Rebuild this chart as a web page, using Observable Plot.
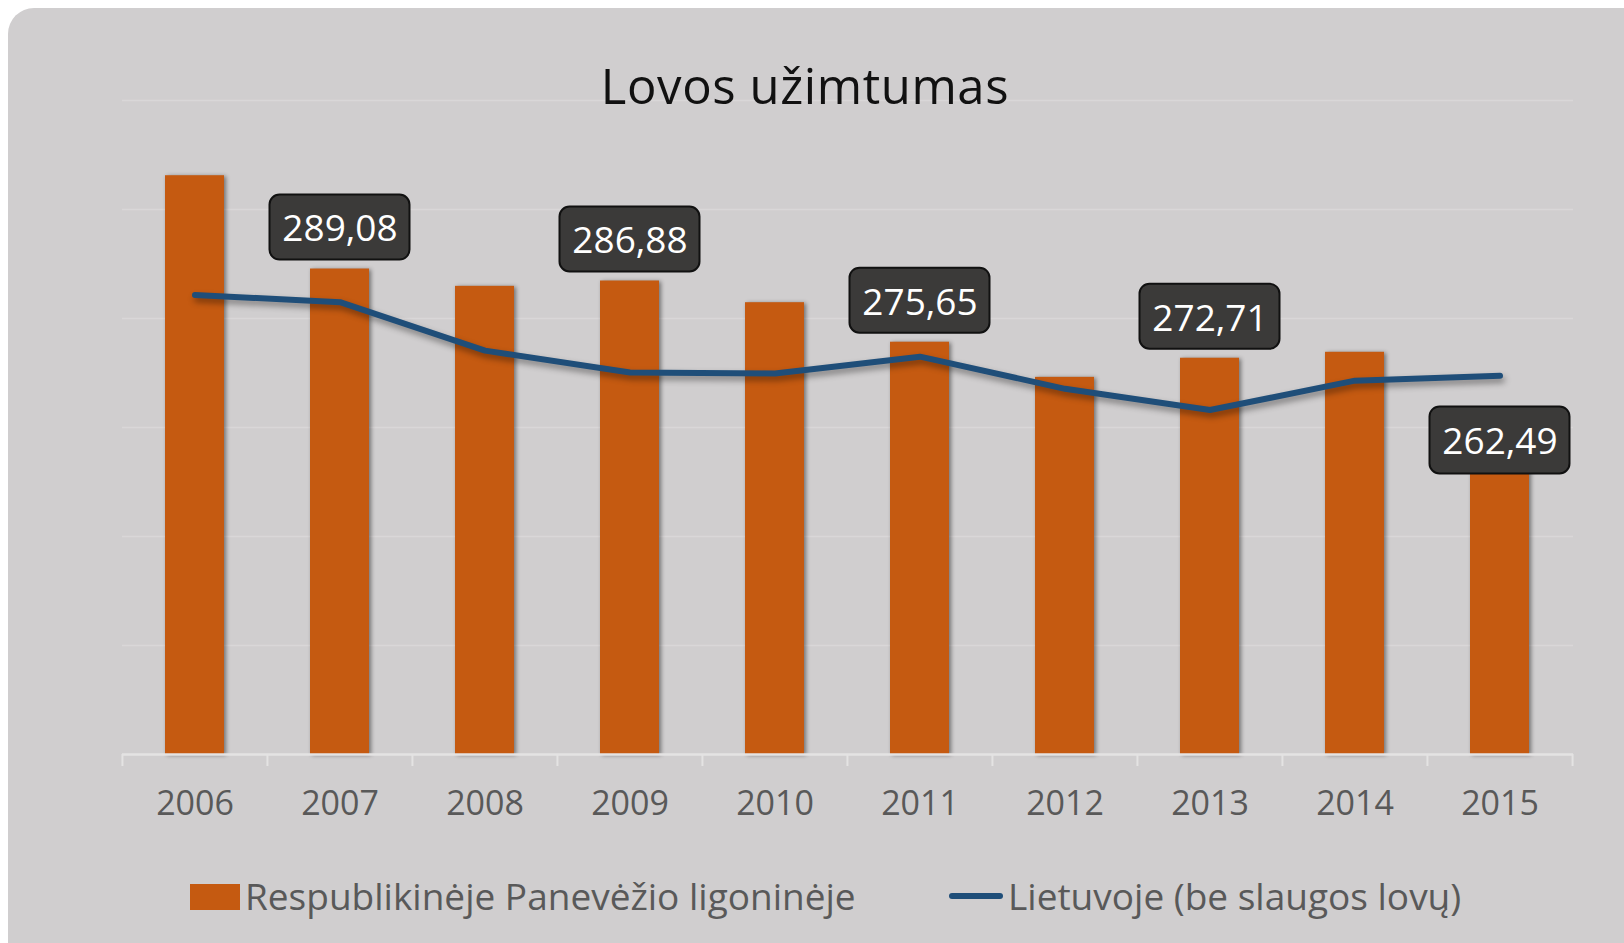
<!DOCTYPE html>
<html>
<head>
<meta charset="utf-8">
<script src="https://cdn.jsdelivr.net/npm/d3@7"></script>
<script src="https://cdn.jsdelivr.net/npm/@observablehq/plot@0.6"></script>
<style>
  html, body { margin: 0; padding: 0; background: #ffffff; width: 1624px; height: 943px; overflow: hidden; }
  #panel { position: absolute; left: 8px; top: 8px; width: 1660px; height: 980px; background: #d0cecf; border-radius: 26px; }
  #title { position: absolute; left: 405px; width: 800px; top: 61px; text-align: center; font-family: "Open Sans", sans-serif; font-size: 49px; line-height: 49px; letter-spacing: 0.6px; color: #111; z-index: 2; }
  #chart { position: absolute; left: 0; top: 0; z-index: 1; }
  .legend { position: absolute; font-family: "Open Sans", sans-serif; font-size: 37px; line-height: 37px; color: #595959; z-index: 2; white-space: nowrap; }
  .swatch { position: absolute; z-index: 2; }
</style>
</head>
<body>
<div id="panel"></div>
<div id="title">Lovos užimtumas</div>
<div id="chart"></div>
<div class="swatch" style="left:190px;top:884px;width:50px;height:26px;background:#c55a11;"></div>
<div class="legend" id="leg1" style="left:245px;top:877px;"></div>
<div class="swatch" style="left:949px;top:893px;width:54px;height:6px;border-radius:3px;background:#1f4e79;"></div>
<div class="legend" id="leg2" style="left:1008px;top:877px;"></div>
<script>
// ---- data ----
const years = [2006, 2007, 2008, 2009, 2010, 2011, 2012, 2013, 2014, 2015];
const hospital = [306.2, 289.08, 285.9, 286.88, 282.9, 275.65, 269.2, 272.71, 273.8, 262.49];
const lithuania = [284.3, 283.0, 274.1, 270.1, 269.9, 273.0, 267.1, 263.2, 268.6, 269.5];
const labelledYears = [2007, 2009, 2011, 2013, 2015];
const gridTicks = [220, 240, 260, 280, 300, 320];
const axisMin = 200;
const axisMax = 320;
const seriesNames = ["Respublikinėje Panevėžio ligoninėje", "Lietuvoje (be slaugos lovų)"];
const titleText = "Lovos užimtumas";

document.getElementById("title").textContent = titleText;
document.getElementById("leg1").textContent = seriesNames[0];
document.getElementById("leg2").textContent = seriesNames[1];

const rows = years.map((year, i) => ({year, hospital: hospital[i], lithuania: lithuania[i]}));
const labelRows = rows.filter(d => labelledYears.includes(d.year));
const labelsAbove = labelRows.slice(0, -1);
const labelsInside = labelRows.slice(-1);
const fmt = v => d3.format(".2f")(v).replace(".", ",");

const W = 1624, H = 943;
const mL = 122, mR = 51, mT = 100, mB = 189;
const step = (W - mL - mR) / years.length;

const orange = "#c55a11";
const blue = "#1f4e79";
const boxFill = "#3b3a39";

const plot = Plot.plot({
  width: W,
  height: H,
  marginLeft: mL,
  marginRight: mR,
  marginTop: mT,
  marginBottom: mB,
  style: {background: "transparent", fontFamily: "Open Sans, sans-serif", overflow: "visible"},
  x: {type: "band", domain: years, paddingInner: 0.593, paddingOuter: 0.2965, axis: null},
  y: {domain: [axisMin, axisMax], axis: null},
  marks: [
    Plot.ruleY(gridTicks, {stroke: "#d9d7d8", strokeWidth: 1.5}),
    Plot.barY(rows, {x: "year", y1: () => axisMin, y2: "hospital", fill: orange}),
    Plot.ruleY([axisMin], {stroke: "#e4e3e3", strokeWidth: 2.5}),
    Plot.ruleX(years, {x: d => d, y1: () => axisMin, y2: () => axisMin, dx: -step / 2, insetBottom: -12, stroke: "#e4e3e3", strokeWidth: 2}),
    Plot.ruleX(years.slice(-1), {x: d => d, y1: () => axisMin, y2: () => axisMin, dx: step / 2, insetBottom: -12, stroke: "#e4e3e3", strokeWidth: 2}),
    Plot.text(years, {x: d => d, y: () => axisMin, dy: 50, text: d => String(d), fontSize: 34, fill: "#595959"}),
    Plot.lineY(rows, {x: "year", y: "lithuania", stroke: blue, strokeWidth: 6, strokeLinecap: "round", strokeLinejoin: "round"}),
    Plot.barY(labelsAbove, {x: "year", y1: "hospital", y2: "hospital", insetLeft: -40.5, insetRight: -40.5, insetTop: -74, insetBottom: 9, rx: 10, fill: boxFill, stroke: "#111", strokeWidth: 2}),
    Plot.text(labelsAbove, {x: "year", y: "hospital", dy: -39.5, text: d => fmt(d.hospital), fontSize: 37, fill: "#ffffff"}),
    Plot.barY(labelsInside, {x: "year", y1: "hospital", y2: "hospital", insetLeft: -40.5, insetRight: -40.5, insetTop: -7, insetBottom: -60, rx: 10, fill: boxFill, stroke: "#111", strokeWidth: 2}),
    Plot.text(labelsInside, {x: "year", y: "hospital", dy: 28.5, text: d => fmt(d.hospital), fontSize: 37, fill: "#ffffff"})
  ]
});
document.getElementById("chart").appendChild(plot);

// subtle drop shadows like the original
const groups = plot.querySelectorAll("g[aria-label='bar']");
if (groups[0]) groups[0].style.filter = "drop-shadow(2px 1px 2px rgba(0,0,0,0.45))";
const lineG = plot.querySelector("g[aria-label='line']");
if (lineG) lineG.style.filter = "drop-shadow(2px 4px 3px rgba(0,0,0,0.4))";
</script>
</body>
</html>
